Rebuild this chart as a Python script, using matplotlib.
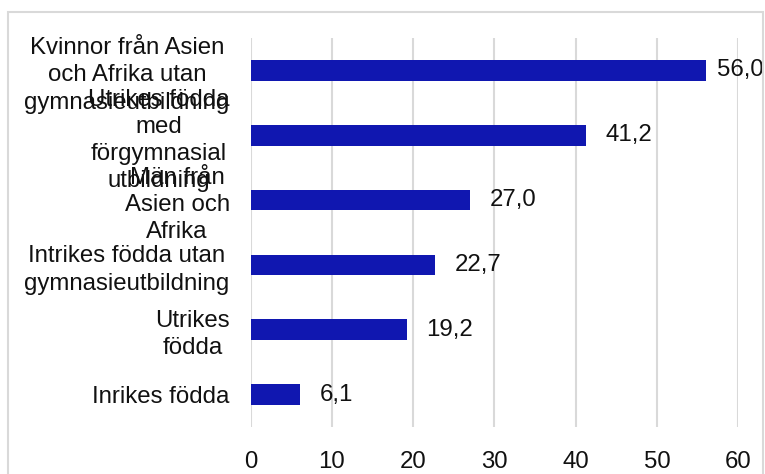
import matplotlib
matplotlib.use("Agg")
import matplotlib.pyplot as plt
from matplotlib.patches import Rectangle

# data, top bar first
groups = ["Kvinnor från Asien\noch Afrika utan\ngymnasieutbildning",
          "Utrikes födda\nmed\nförgymnasial\nutbildning",
          "Män från\nAsien och\nAfrika",
          "Intrikes födda utan\ngymnasieutbildning",
          "Utrikes\nfödda",
          "Inrikes födda"]
values = [56.0, 41.2, 27.0, 22.7, 19.2, 6.1]
xticks = [0, 10, 20, 30, 40, 50, 60]

plt.rcParams['font.family'] = ['Liberation Sans', 'DejaVu Sans']

fig = plt.figure(figsize=(7.65, 4.74), dpi=100)
ax = fig.add_axes([250.5/765, 47/474, 488/765, 389/474])

# outer frame (bottom edge falls outside the picture)
fig.patches.append(Rectangle((8/765, -0.1), 755/765, 1.1 - 12/474,
                             transform=fig.transFigure, fill=False,
                             edgecolor='#d9d9d9', linewidth=1.5))

ypos = list(range(len(values)))
ax.barh(ypos, values, height=0.32, color='#1017B0', zorder=3)

for y, v in zip(ypos, values):
    gap = 8 if v > 50 else 14  # label squeezed next to the frame for the long bar
    ax.annotate(f"{v:.1f}".replace('.', ','), (v, y), xytext=(gap, 0),
                textcoords='offset points', va='center', ha='left',
                fontsize=17.3, color='#111111', annotation_clip=False)

ax.set_ylim(len(values) - 0.5, -0.5)
ax.set_xlim(0, 60)
ax.set_xticks(xticks)
ax.set_yticks(ypos)
ax.set_yticklabels(groups, ha='right', ma='center', fontsize=17.3,
                   color='#111111', linespacing=1.3)
ax.tick_params(axis='both', length=0)
ax.tick_params(axis='x', pad=17, labelsize=17.3, labelcolor='#111111')
ax.tick_params(axis='y', pad=15)
ax.grid(axis='x', color='#d9d9d9', linewidth=1.5, zorder=0)
for s in ax.spines.values():
    s.set_visible(False)

plt.savefig('out.png', dpi=100)
